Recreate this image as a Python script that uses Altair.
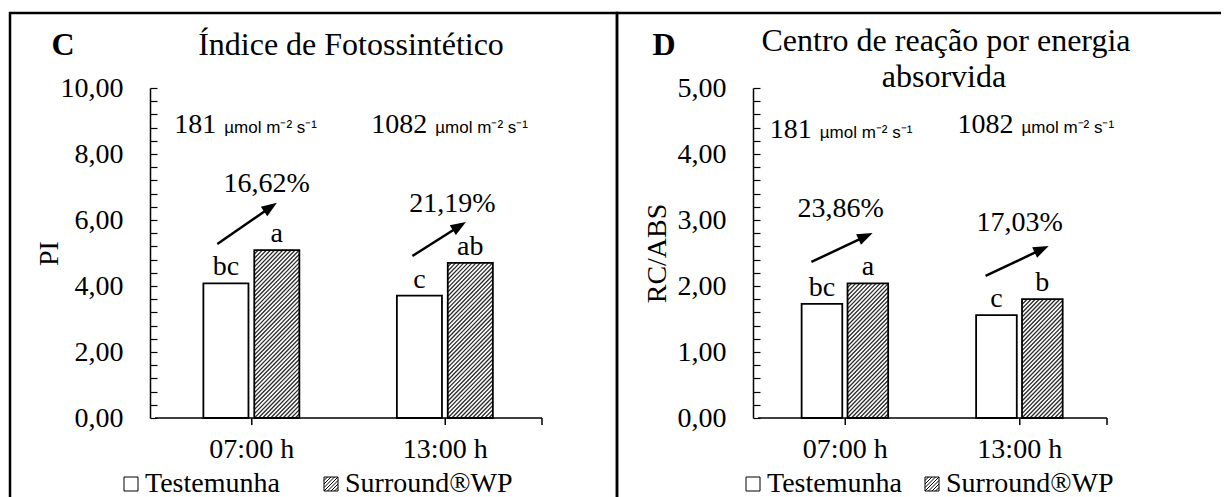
import altair as alt
import pandas as pd

# ---------------- data ----------------
categories = ["07:00 h", "13:00 h"]
series = ["Testemunha", "Surround®WP"]

pi_testemunha = [4.08, 3.71]
pi_surround = [5.09, 4.70]
pi_letters_testemunha = ["bc", "c"]
pi_letters_surround = ["a", "ab"]
pi_increase = ["16,62%", "21,19%"]

rc_testemunha = [1.73, 1.56]
rc_surround = [2.04, 1.80]
rc_letters_testemunha = ["bc", "c"]
rc_letters_surround = ["a", "b"]
rc_increase = ["23,86%", "17,03%"]

irradiance = ["181", "1082"]
irradiance_unit = "µmol m⁻² s⁻¹"

# ---------------- layout / style constants ----------------
SERIF = "Liberation Serif"
SANS = "Liberation Sans"
FS = 28
TFS = 32
H = 330
WHITE_OFF = (-0.25, -0.017)   # bar extent around category centre (x units)
HATCH_OFF = (0.013, 0.246)
PERIOD = 4.2                  # hatch period in px
SQUARE = "M-1,-1H1V1H-1Z"
HATCHED = ("M-1,-1H1V1H-1Z M-1,-0.5L-0.5,-1 M-1,0L0,-1 M-1,0.5L0.5,-1 M-1,1L1,-1 "
           "M-0.5,1L1,-0.5 M0,1L1,0 M0.5,1L1,0.5")

panels = [
    dict(letter="C", titles=["Índice de Fotossintético"], ylabel="PI",
         ymax=10, major=2, minor=0.4, W=397,
         t=pi_testemunha, s=pi_surround,
         lt=pi_letters_testemunha, ls=pi_letters_surround, pct=pi_increase,
         pct_pos=[(0.577, 6.85), (1.537, 6.24)],
         arrows=[((0.322, 5.27), (0.630, 6.52)), ((1.330, 4.91), (1.607, 5.94))],
         irr_pos=[(0.3375, 8.64), (1.428, 8.64)],
         frame=(-140, 467), letter_x=-87, title_x=[201], title_y=[-33],
         ytitle_x=-101, legend_x=-33, legend_pad=37),
    dict(letter="D", titles=["Centro de reação por energia", "absorvida"], ylabel="RC/ABS",
         ymax=5, major=1, minor=0.2, W=359,
         t=rc_testemunha, s=rc_surround,
         lt=rc_letters_testemunha, ls=rc_letters_surround, pct=rc_increase,
         pct_pos=[(0.474, 3.045), (1.499, 2.84)],
         arrows=[((0.306, 2.364), (0.657, 2.803)), ((1.304, 2.152), (1.666, 2.606))],
         irr_pos=[(0.331, 4.242), (1.487, 4.318)],
         frame=(-136, 470), letter_x=-89, title_x=[193, 191], title_y=[-37, -1],
         ytitle_x=-96, legend_x=-14, legend_pad=16),
]


def build_panel(p):
    W = p["W"]
    sx = W / 2.0
    sy = H / p["ymax"]
    xs = alt.Scale(domain=[0, 2], nice=False, zero=False)
    ys = alt.Scale(domain=[0, p["ymax"]], nice=False)

    rows = []
    for i, c in enumerate(categories):
        rows.append(dict(cat=c, idx=i, series=series[0], value=p["t"][i], letter=p["lt"][i]))
        rows.append(dict(cat=c, idx=i, series=series[1], value=p["s"][i], letter=p["ls"][i]))
    bars_df = pd.DataFrame(rows)
    cats_df = pd.DataFrame({"cat": categories, "idx": list(range(len(categories)))})
    one = pd.DataFrame({"k": [0]})

    base = (
        alt.Chart(bars_df)
        .transform_calculate(
            x0=f"datum.idx + 0.5 + (datum.series === '{series[0]}' ? {WHITE_OFF[0]} : {HATCH_OFF[0]})")
        .transform_calculate(
            x1=f"datum.idx + 0.5 + (datum.series === '{series[0]}' ? {WHITE_OFF[1]} : {HATCH_OFF[1]})")
        .transform_calculate(xc="(datum.x0 + datum.x1) / 2")
        .transform_calculate(base0="0")
    )

    n_major = int(round(p["ymax"] / p["major"]))
    major_vals = [round(k * p["major"], 4) for k in range(n_major + 1)]
    n_minor = int(round(p["ymax"] / p["minor"]))
    minor_vals = [round(k * p["minor"], 4) for k in range(n_minor + 1)]

    y_left = alt.Axis(orient="left", values=major_vals, ticks=False, tickSize=0,
                      domainWidth=1.5, labelPadding=27, labelFlush=False,
                      labelExpr="replace(format(datum.value, '.2f'), '.', ',')",
                      title=p["ylabel"], titleFontSize=28, titleFontWeight="normal",
                      titleX=p["ytitle_x"], titleY=H / 2, titleAngle=270,
                      titleBaseline="middle", titleAlign="center", grid=False)
    y_right = alt.Axis(orient="right", offset=-W, values=minor_vals, labels=False,
                       domain=False, tickSize=7, tickWidth=1.2, title=None, grid=False)

    frame = alt.Chart(one).mark_rect(fill="transparent", stroke="black",
                                     strokeWidth=2.5).encode(
        x=alt.value(p["frame"][0]), x2=alt.value(p["frame"][1]),
        y=alt.value(-75), y2=alt.value(440))

    fill_layer = base.mark_bar(fill="white", strokeWidth=0, orient="vertical").encode(
        x=alt.X("x0:Q", scale=xs, axis=None), x2="x1:Q",
        y=alt.Y("value:Q", scale=ys, axis=y_left), y2="base0:Q")

    hatch = (
        base.transform_filter(f"datum.series === '{series[1]}'")
        .transform_calculate(hw=f"(datum.x1 - datum.x0) * {sx}")
        .transform_calculate(hh=f"datum.value * {sy}")
        .transform_calculate(k=f"sequence(0, ceil((datum.hw + datum.hh) / {PERIOD}) + 1)")
        .transform_flatten(["k"])
        .transform_calculate(d=f"datum.hw - datum.k * {PERIOD}")
        .transform_calculate(vlo="max(0, -datum.d)")
        .transform_calculate(vhi="min(datum.hh, datum.hw - datum.d)")
        .transform_filter("datum.vhi > datum.vlo")
        .transform_calculate(xa=f"datum.x0 + (datum.d + datum.vlo) / {sx}")
        .transform_calculate(ya=f"datum.vlo / {sy}")
        .transform_calculate(xb=f"datum.x0 + (datum.d + datum.vhi) / {sx}")
        .transform_calculate(yb=f"datum.vhi / {sy}")
        .mark_rule(color="#2a2a2a", strokeWidth=1.3)
        .encode(x=alt.X("xa:Q", scale=xs, axis=None), x2="xb:Q",
                y=alt.Y("ya:Q", scale=ys, axis=None), y2="yb:Q")
    )

    outline = base.mark_bar(fill="transparent", stroke="black", strokeWidth=1.8,
                            orient="vertical").encode(
        x=alt.X("x0:Q", scale=xs, axis=None), x2="x1:Q",
        y=alt.Y("value:Q", scale=ys, axis=None), y2="base0:Q")

    ticks = base.mark_point(opacity=0).encode(
        x=alt.X("xc:Q", scale=xs, axis=None),
        y=alt.Y("value:Q", scale=ys, axis=y_right))

    # category (x) axis: baseline, ticks at the category centres and the end, labels
    x_domain = (
        alt.Chart(one).transform_calculate(a="0", b=f"{len(categories)}", y0="0")
        .mark_rule(color="black", strokeWidth=1.5)
        .encode(x=alt.X("a:Q", scale=xs, axis=None), x2="b:Q",
                y=alt.Y("y0:Q", scale=ys, axis=None))
    )
    x_ticks = (
        alt.Chart(cats_df).transform_calculate(pos="datum.idx + 0.5")
        .mark_rule(color="black", strokeWidth=1.5)
        .encode(x=alt.X("pos:Q", scale=xs, axis=None), y=alt.value(H), y2=alt.value(H + 7))
    )
    x_end_tick = (
        alt.Chart(one).transform_calculate(pos=f"{len(categories)}")
        .mark_rule(color="black", strokeWidth=1.5)
        .encode(x=alt.X("pos:Q", scale=xs, axis=None), y=alt.value(H), y2=alt.value(H + 7))
    )
    x_labels = (
        alt.Chart(cats_df).transform_calculate(pos="datum.idx + 0.5")
        .mark_text(font=SERIF, fontSize=FS, baseline="alphabetic", color="black")
        .encode(x=alt.X("pos:Q", scale=xs, axis=None), y=alt.value(H + 40), text="cat:N")
    )

    letters = base.mark_text(font=SERIF, fontSize=FS, baseline="alphabetic", dy=-8,
                             color="black").encode(
        x=alt.X("xc:Q", scale=xs, axis=None),
        y=alt.Y("value:Q", scale=ys, axis=None), text="letter:N")

    pct_df = pd.DataFrame({"label": p["pct"],
                           "px": [q[0] for q in p["pct_pos"]],
                           "py": [q[1] for q in p["pct_pos"]]})
    pct = alt.Chart(pct_df).mark_text(font=SERIF, fontSize=FS, baseline="alphabetic",
                                      color="black").encode(
        x=alt.X("px:Q", scale=xs, axis=None), y=alt.Y("py:Q", scale=ys, axis=None),
        text="label:N")

    arr_df = pd.DataFrame({"xs": [a[0][0] for a in p["arrows"]],
                           "ys": [a[0][1] for a in p["arrows"]],
                           "xt": [a[1][0] for a in p["arrows"]],
                           "yt": [a[1][1] for a in p["arrows"]]})
    arr = (
        alt.Chart(arr_df)
        .transform_calculate(dxp=f"(datum.xt - datum.xs) * {sx}")
        .transform_calculate(dyp=f"(datum.yt - datum.ys) * {sy}")
        .transform_calculate(L="sqrt(datum.dxp * datum.dxp + datum.dyp * datum.dyp)")
        .transform_calculate(f="1 - 8 / datum.L")
        .transform_calculate(xe="datum.xs + (datum.xt - datum.xs) * datum.f")
        .transform_calculate(ye="datum.ys + (datum.yt - datum.ys) * datum.f")
        .transform_calculate(ang="atan2(datum.dxp, datum.dyp) * 180 / PI")
    )
    shaft = arr.mark_rule(color="black", strokeWidth=2.5).encode(
        x=alt.X("xs:Q", scale=xs, axis=None), y=alt.Y("ys:Q", scale=ys, axis=None),
        x2="xe:Q", y2="ye:Q")
    head = arr.mark_point(shape="M0,0L0.75,2L-0.75,2Z", filled=True, color="black",
                          opacity=1, size=240, strokeWidth=0).encode(
        x=alt.X("xt:Q", scale=xs, axis=None), y=alt.Y("yt:Q", scale=ys, axis=None),
        angle=alt.Angle("ang:Q", scale=None))

    irr_df = pd.DataFrame({"num": irradiance,
                           "px": [q[0] for q in p["irr_pos"]],
                           "py": [q[1] for q in p["irr_pos"]]})
    irr_num = alt.Chart(irr_df).mark_text(font=SERIF, fontSize=28, align="right",
                                          baseline="alphabetic", dx=-4, color="black").encode(
        x=alt.X("px:Q", scale=xs, axis=None), y=alt.Y("py:Q", scale=ys, axis=None),
        text="num:N")
    irr_unit = alt.Chart(irr_df).mark_text(font=SANS, fontSize=17, align="left",
                                           baseline="alphabetic", dx=4, color="black",
                                           text=irradiance_unit).encode(
        x=alt.X("px:Q", scale=xs, axis=None), y=alt.Y("py:Q", scale=ys, axis=None))

    letter_mark = alt.Chart(one).mark_text(font=SERIF, fontSize=TFS, fontWeight="bold",
                                           baseline="alphabetic", align="center",
                                           color="black", text=p["letter"]).encode(
        x=alt.value(p["letter_x"]), y=alt.value(-33))
    title_marks = [
        alt.Chart(one).mark_text(font=SERIF, fontSize=TFS, baseline="alphabetic",
                                 align="center", color="black", text=t).encode(
            x=alt.value(tx), y=alt.value(ty))
        for t, tx, ty in zip(p["titles"], p["title_x"], p["title_y"])
    ]

    legend_layer = (
        alt.Chart(bars_df).transform_filter("false")
        .mark_point(opacity=1, filled=False, color="black", strokeWidth=1)
        .encode(shape=alt.Shape("series:N",
                                scale=alt.Scale(domain=series, range=[SQUARE, HATCHED]),
                                legend=alt.Legend(orient="none", legendX=p["legend_x"],
                                                  legendY=382, direction="horizontal",
                                                  title=None, symbolSize=196,
                                                  symbolStrokeColor="black",
                                                  symbolStrokeWidth=1,
                                                  labelFont=SERIF, labelFontSize=FS,
                                                  labelColor="black", labelOffset=0,
                                                  columnPadding=p["legend_pad"],
                                                  padding=0, labelLimit=500)))
    )

    layers = [frame, fill_layer, hatch, outline, ticks, x_domain, x_ticks, x_end_tick,
              x_labels, letters, pct, shaft, head, irr_num, irr_unit,
              letter_mark] + title_marks + [legend_layer]
    return alt.layer(*layers).resolve_axis(y="independent").properties(width=W, height=H)


chart = (
    alt.hconcat(build_panel(panels[0]), build_panel(panels[1]), spacing=206, bounds="flush")
    .resolve_scale(x="independent", y="independent", shape="independent")
    .resolve_legend(shape="independent")
    .properties(autosize=alt.AutoSizeParams(type="none"), background="white",
                padding={"left": 142, "top": 80, "right": 1071, "bottom": 409})
    .configure_view(stroke=None)
    .configure_axis(labelFont=SERIF, labelFontSize=FS, labelColor="black",
                    titleFont=SERIF, titleColor="black", domainColor="black",
                    tickColor="black", grid=False, labelOverlap=False)
)

chart.save("out.html", embed_options={"renderer": "svg", "actions": False})
